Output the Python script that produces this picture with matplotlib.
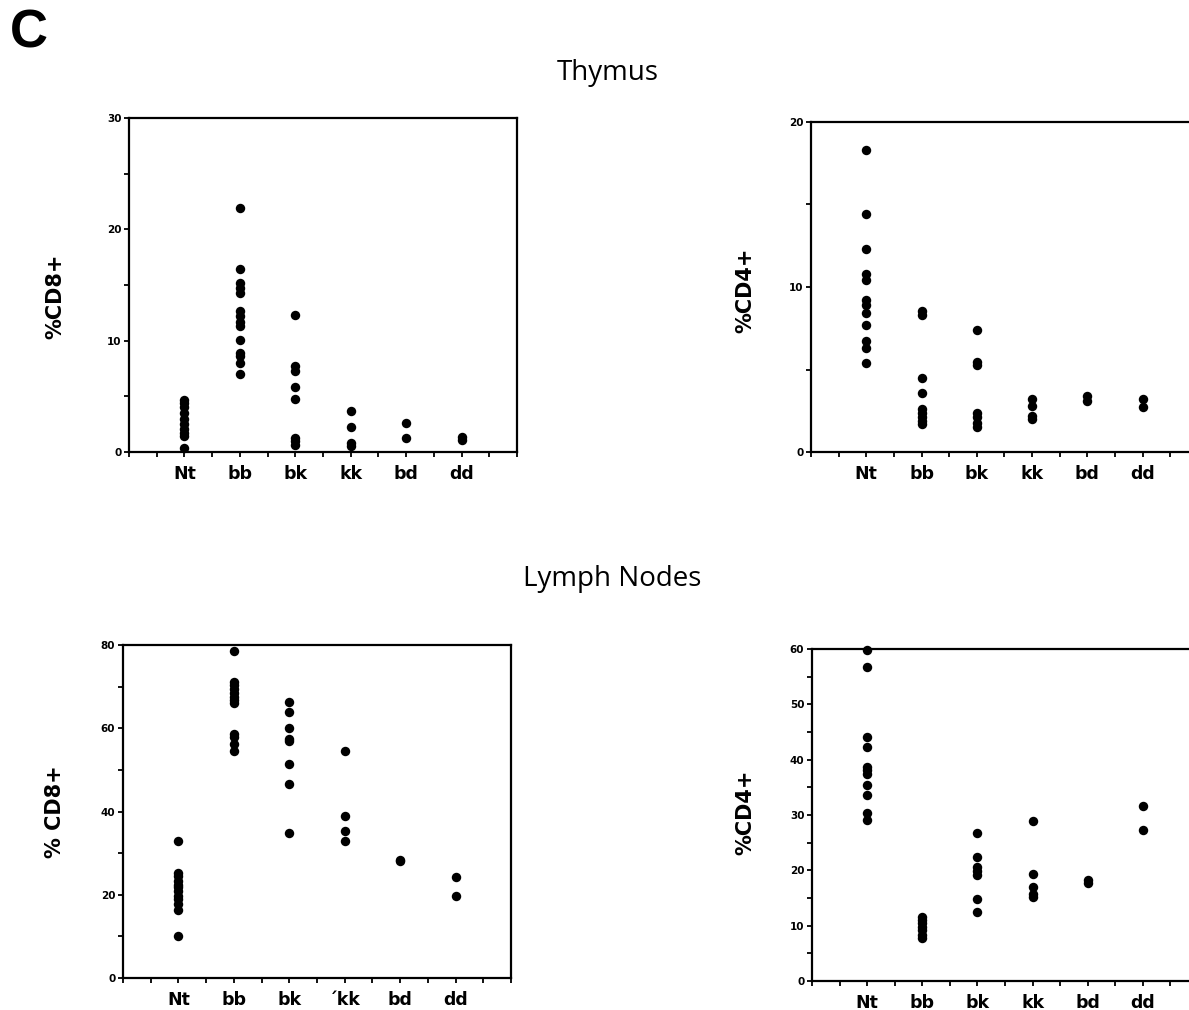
import matplotlib
matplotlib.use("Agg")
import matplotlib.pyplot as plt
from matplotlib.ticker import MultipleLocator

# genotype groups on the x axis
groups = ["Nt", "bb", "bk", "kk", "bd", "dd"]
groups_ln_cd8 = ["Nt", "bb", "bk", "\u00b4kk", "bd", "dd"]

# Thymus, %CD8+
thy_cd8 = {
    "Nt": [4.7, 4.4, 4.0, 3.5, 3.0, 2.5, 2.1, 1.7, 1.4, 0.4],
    "bb": [21.9, 16.4, 15.2, 14.7, 14.3, 12.7, 12.2, 11.7, 11.3, 10.1, 8.9, 8.6, 8.0, 7.0],
    "bk": [12.3, 7.7, 7.3, 5.8, 4.75, 1.25, 0.95, 0.6],
    "kk": [3.7, 2.25, 0.8, 0.5],
    "bd": [2.6, 1.25],
    "dd": [1.35, 1.05],
}

# Thymus, %CD4+
thy_cd4 = {
    "Nt": [18.3, 14.4, 12.3, 10.8, 10.4, 9.2, 8.9, 8.4, 7.7, 6.7, 6.3, 5.4],
    "bb": [8.55, 8.3, 4.5, 3.55, 2.6, 2.35, 2.1, 1.85, 1.7],
    "bk": [7.4, 5.45, 5.3, 2.35, 2.1, 1.75, 1.5],
    "kk": [3.2, 2.8, 2.2, 2.0],
    "bd": [3.4, 3.1],
    "dd": [3.2, 2.7],
}

# Lymph nodes, %CD8+
ln_cd8 = {
    "Nt": [32.8, 25.2, 24.6, 23.2, 22.4, 21.8, 20.8, 19.8, 19.0, 17.8, 16.4, 10.2],
    "bb": [78.6, 71.2, 70.4, 69.4, 68.4, 67.6, 66.8, 66.0, 58.6, 58.0, 56.2, 54.6],
    "bk": [66.2, 63.8, 60.0, 57.4, 57.0, 51.4, 46.6, 34.9],
    "kk": [54.6, 38.8, 35.2, 33.0],
    "bd": [28.4, 28.1],
    "dd": [24.2, 19.6],
}

# Lymph nodes, %CD4+
ln_cd4 = {
    "Nt": [59.8, 56.8, 44.1, 42.2, 38.6, 38.1, 37.5, 35.4, 33.7, 30.4, 29.1],
    "bb": [11.6, 11.1, 10.5, 9.8, 9.2, 8.4, 7.7],
    "bk": [26.8, 22.4, 20.6, 19.9, 19.2, 14.9, 12.5],
    "kk": [29.0, 19.3, 16.9, 15.8, 15.2],
    "bd": [18.3, 17.7],
    "dd": [31.6, 27.2],
}

W, H = 1189, 1010
fig = plt.figure(figsize=(W / 100, H / 100), dpi=100)


def px_axes(left, right, top, bottom):
    return fig.add_axes([left / W, 1 - bottom / H, (right - left) / W, (bottom - top) / H])


def dot_panel(ax, data, labels, ymax, major, minor):
    for i, g in enumerate(groups):
        vals = data[g]
        ax.plot([i + 1] * len(vals), vals, "o", color="black", markersize=6.8,
                markeredgewidth=0, clip_on=False)
    ax.set_xlim(0, 7)
    ax.set_ylim(0, ymax)
    ax.set_xticks(range(1, 7))
    ax.set_xticklabels(labels, fontweight="bold", fontsize=12.5, family="DejaVu Sans")
    ax.xaxis.set_minor_locator(MultipleLocator(0.5))
    ax.yaxis.set_major_locator(MultipleLocator(major))
    ax.yaxis.set_minor_locator(MultipleLocator(minor))
    for lab in ax.get_yticklabels():
        lab.set_fontweight("bold")
        lab.set_fontsize(7.5)
    ax.tick_params(which="both", direction="out", length=3.5, width=1.3, color="black")
    ax.tick_params(axis="x", which="major", pad=6)
    ax.tick_params(axis="y", which="major", pad=2)
    for s in ax.spines.values():
        s.set_linewidth(1.6)
        s.set_color("black")


ax1 = px_axes(129, 517, 118, 452)
dot_panel(ax1, thy_cd8, groups, 30, 10, 5)

ax2 = px_axes(811, 1198, 122, 452)
dot_panel(ax2, thy_cd4, groups, 20, 10, 5)

ax3 = px_axes(123, 511, 645, 978)
dot_panel(ax3, ln_cd8, groups_ln_cd8, 80, 20, 10)

ax4 = px_axes(812, 1198, 649, 981)
dot_panel(ax4, ln_cd4, groups, 60, 10, 5)

# y axis labels
ylab = dict(rotation=90, ha="center", va="center", fontsize=15, fontweight="bold",
            family="DejaVu Sans")
fig.text(55 / W, 1 - 296 / H, "%CD8+", **ylab)
fig.text(745 / W, 1 - 290 / H, "%CD4+", **ylab)
fig.text(55 / W, 1 - 812 / H, "% CD8+", **ylab)
fig.text(745 / W, 1 - 812 / H, "%CD4+", **ylab)

# section titles
fig.text(608 / W, 1 - 80 / H, "Thymus", ha="center", va="baseline", fontsize=20,
         family="Open Sans")
fig.text(612 / W, 1 - 586 / H, "Lymph Nodes", ha="center", va="baseline", fontsize=20,
         family="Open Sans")

# panel letter
fig.text(29 / W, 1 - 34 / H, "C", ha="center", va="center", fontsize=38,
         fontweight="bold", family="Liberation Sans")

fig.savefig("out.png", dpi=100)
